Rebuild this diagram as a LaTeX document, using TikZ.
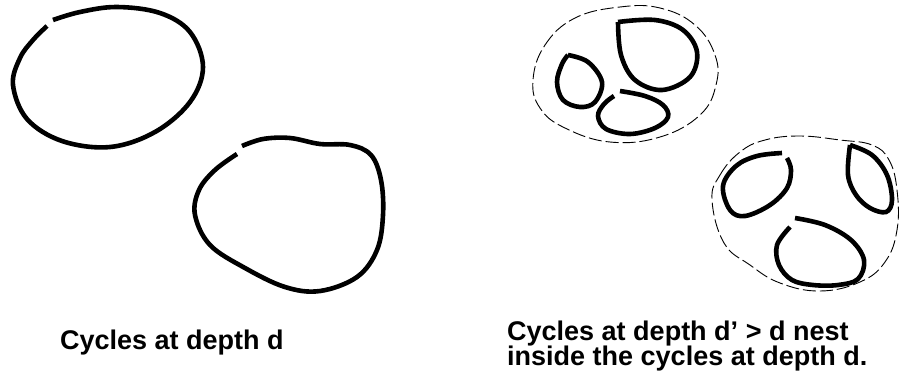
\documentclass[tikz,border=0pt]{standalone}
\usepackage{fontspec}
\setmainfont{Liberation Sans}
\newcommand\tightlines{\lineskiplimit-20pt\relax}
\begin{document}
\begin{tikzpicture}[x=1pt,y=-1pt,
  cyc/.style={line width=4.6pt,line cap=butt,line join=round},
  hull/.style={line width=0.9pt,dash pattern=on 13pt off 4pt},
  lbl/.style={font={\bfseries\fontsize{27}{25.2}\selectfont\tightlines},inner sep=0pt,align=left}]
\useasboundingbox (0,0) rectangle (901,376);
% left group
\draw[cyc] plot[smooth,tension=0.6] coordinates {(53,20) (80,12) (117,7) (160,13) (190,32) (203,67) (190,102) (155,132) (110,147) (62,141) (27,119) (13,85) (20,58) (33,40) (47,26)};
\draw[cyc] plot[smooth,tension=0.6] coordinates {(242,146) (263,139) (290,138) (320,144) (350,145) (371,155) (381,180) (383,215) (377,250) (357,277) (320,291) (285,287) (245,268) (210,245) (195,215) (199,190) (215,170) (237,154)};
% right top group
\draw[hull] plot[smooth cycle,tension=0.7] coordinates {(533,80) (545,45) (575,18) (620,7) (660,8) (695,25) (715,55) (716,85) (700,115) (660,137) (610,142) (565,128) (540,108)};
\draw[cyc,line join=miter] plot[smooth,tension=0.6] coordinates {(618,22) (655,20) (683,30) (697,52) (690,77) (662,90) (635,80) (621,55) (618,22)};
\draw[cyc,line join=miter] plot[smooth,tension=0.6] coordinates {(568,55) (588,62) (602,82) (595,102) (580,107) (563,100) (557,82) (562,64) (568,55)};
\draw[cyc] plot[smooth,tension=0.6] coordinates {(620,91) (645,96) (663,105) (668,117) (655,128) (630,134) (606,129) (598,116) (604,104) (614,96)};
% right bottom group
\draw[hull] plot[smooth cycle,tension=0.7] coordinates {(712,200) (720,175) (740,152) (765,140) (800,136) (840,140) (872,145) (889,160) (897,190) (897,230) (885,262) (860,282) (820,291) (780,283) (750,265) (724,243)};
\draw[cyc] plot[smooth,tension=0.6] coordinates {(782,153) (757,156) (736,166) (723,186) (730,210) (745,216) (770,205) (787,188) (791,170) (787,158)};
\draw[cyc,line join=miter] plot[smooth,tension=0.6] coordinates {(850,145) (872,155) (887,175) (892,200) (886,212) (870,208) (856,195) (848,175) (850,145)};
\draw[cyc] plot[smooth,tension=0.6] coordinates {(795,218) (825,225) (851,240) (864,260) (858,279) (838,285) (813,285) (792,280) (779,265) (777,245) (790,227)};
% labels
\node[lbl,anchor=base west] (l1) at (60,349) {Cycles at depth d};
\node[lbl,anchor=north west] (l2) at (507,321) {Cycles at depth d’ > d nest\\inside the cycles at depth d.};
\end{tikzpicture}
\end{document}
